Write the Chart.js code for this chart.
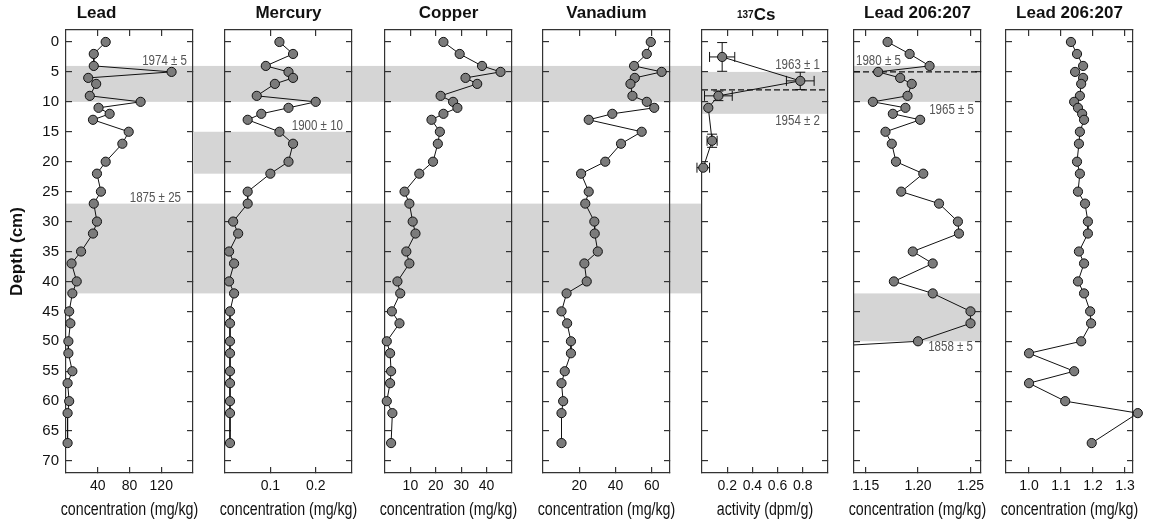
<!DOCTYPE html>
<html>
<head>
<meta charset="utf-8">
<script src="https://cdn.jsdelivr.net/npm/chart.js@4.4.0/dist/chart.umd.min.js"></script>
<style>
  body { margin: 0; background: #fff; }
  #wrap { position: relative; width: 1149px; height: 525px; overflow: hidden; }
  #wrap canvas { position: absolute; top: 0; }
</style>
</head>
<body>
<div id="wrap"></div>
<script>
// ---- data ----
const depthTicks = [0, 5, 10, 15, 20, 25, 30, 35, 40, 45, 50, 55, 60, 65, 70];
const depths = [0, 2, 4, 5, 6, 7, 9, 10, 11, 12, 13, 15, 17, 20, 22, 25, 27, 30, 32, 35, 37, 40, 42, 45, 47, 50, 52, 55, 57, 60, 62, 67];

const lead = [50, 35, 35, 133, 28, 38, 30, 94, 41, 55, 34, 79, 71, 50, 39, 44, 35, 39, 34, 19, 7, 13.5, 8, 4, 5.5, 3, 3, 8, 2, 4, 2, 2];
const mercury = [0.12, 0.15, 0.09, 0.14, 0.15, 0.11, 0.07, 0.2, 0.14, 0.08, 0.05, 0.12, 0.15, 0.14, 0.1, 0.05, 0.05, 0.018, 0.029, 0.009, 0.02, 0.009, 0.02, 0.011, 0.011, 0.011, 0.011, 0.011, 0.011, 0.011, 0.011, 0.011];
const copper = [23, 29.4, 38.2, 45.5, 31.7, 36.3, 21.9, 26.8, 28.5, 23, 18.3, 21.6, 20.8, 18.9, 13.5, 7.7, 9.6, 10.9, 12, 8.4, 9.6, 4.9, 6, 2.7, 5.7, 0.7, 2, 2.4, 2, 0.7, 2.9, 2.4];
const vanadium = [59.4, 57.2, 50.2, 65.4, 50.6, 48.2, 49.3, 57.2, 61.3, 38.2, 25.2, 54.4, 43, 34.3, 21, 25.2, 23.3, 28.3, 28.5, 30.2, 22.8, 24.1, 13, 10.2, 13.3, 15.4, 15.4, 12, 10.2, 11.1, 10.2, 10.2];

const csDepth = [2.5, 6.5, 9, 11, 16.5, 21];
const csActivity = [0.16, 0.78, 0.13, 0.05, 0.08, 0.01];
const csErrActivity = [0.1, 0.11, 0.11, 0, 0.04, 0.05];
const csErrDepth = [2.4, 1.45, 0.8, 0, 1.1, 0];

const ratioDepths = [0, 2, 4, 5, 6, 7, 9, 10, 11, 12, 13, 15, 17, 20, 22, 25, 27, 30, 32, 35, 37, 40, 42, 45, 47, 50, 52];
const ratioZoom = [1.171, 1.192, 1.211, 1.162, 1.183, 1.194, 1.19, 1.157, 1.188, 1.176, 1.202, 1.169, 1.175, 1.179, 1.205, 1.184, 1.22, 1.238, 1.239, 1.195, 1.214, 1.177, 1.214, 1.25, 1.25, 1.2, 1.0];
const ratioFull = [1.131, 1.15, 1.169, 1.144, 1.169, 1.163, 1.159, 1.141, 1.153, 1.166, 1.172, 1.159, 1.156, 1.15, 1.159, 1.153, 1.175, 1.184, 1.184, 1.156, 1.172, 1.153, 1.172, 1.191, 1.194, 1.163, 1.0, 1.141, 1.0, 1.113, 1.34, 1.196];

const leadTicks = [40, 80, 120];
const mercuryTicks = [0.1, 0.2];
const copperTicks = [10, 20, 30, 40];
const vanadiumTicks = [20, 40, 60];
const csTicks = [0.2, 0.4, 0.6, 0.8];
const ratioZoomTicks = [1.15, 1.20, 1.25];
const ratioFullTicks = [1.0, 1.1, 1.2, 1.3];

const datedBands = [[4, 10], [27, 42]];
const mercuryBand = [15, 22];
const csBand = [5, 12];
const ratioBands = [[4, 10], [42, 50]];
const csDash = 8;
const ratioDash = 5;

// ---- drawing ----
const sans = "'Liberation Sans', Arial, sans-serif";
Chart.defaults.font.family = sans;
Chart.defaults.color = '#111';

// squeeze text a little, the original uses a condensed face
function narrowText(ctx, text, x, y, squeeze) {
  const w = ctx.measureText(text).width;
  ctx.fillText(text, x, y, w * squeeze);
}

const decor = {
  id: 'decor',
  beforeDraw(chart, args, o) {
    const { ctx, chartArea: a, scales: { y } } = chart;
    ctx.save();
    ctx.fillStyle = '#d5d5d5';
    (o.bands || []).forEach(b => {
      const y1 = y.getPixelForValue(b.range[0]);
      const y2 = y.getPixelForValue(b.range[1]);
      const x1 = a.left - (b.left || 0);
      const x2 = a.right + (b.right || 0);
      ctx.fillRect(x1, y1, x2 - x1, y2 - y1);
    });
    ctx.restore();
  },
  beforeDatasetsDraw(chart, args, o) {
    const { ctx, chartArea: a, scales: { x, y } } = chart;
    ctx.save();
    if (o.dash != null) {
      const py = y.getPixelForValue(o.dash);
      ctx.strokeStyle = '#111';
      ctx.lineWidth = 1.2;
      ctx.setLineDash([6, 3]);
      ctx.beginPath();
      ctx.moveTo(a.left, py);
      ctx.lineTo(a.right, py);
      ctx.stroke();
      ctx.setLineDash([]);
    }
    if (o.errors) {
      const e = o.errors;
      const cap = 5;
      ctx.strokeStyle = '#111';
      ctx.lineWidth = 1;
      e.x.forEach((v, i) => {
        const py = y.getPixelForValue(e.y[i]);
        const px = x.getPixelForValue(v);
        const xa = x.getPixelForValue(v - e.ex[i]), xb = x.getPixelForValue(v + e.ex[i]);
        const ya = y.getPixelForValue(e.y[i] - e.ey[i]), yb = y.getPixelForValue(e.y[i] + e.ey[i]);
        ctx.beginPath();
        if (xb - xa > 4) {
          ctx.moveTo(xa, py); ctx.lineTo(xb, py);
          ctx.moveTo(xa, py - cap); ctx.lineTo(xa, py + cap);
          ctx.moveTo(xb, py - cap); ctx.lineTo(xb, py + cap);
        }
        if (yb - ya > 4) {
          ctx.moveTo(px, ya); ctx.lineTo(px, yb);
          ctx.moveTo(px - cap, ya); ctx.lineTo(px + cap, ya);
          ctx.moveTo(px - cap, yb); ctx.lineTo(px + cap, yb);
        }
        ctx.stroke();
      });
    }
    ctx.restore();
  },
  afterDraw(chart, args, o) {
    const { ctx, chartArea: a, scales: { y } } = chart;
    ctx.save();
    ctx.fillStyle = '#555';
    ctx.font = '15px ' + sans;
    ctx.textBaseline = 'middle';
    (o.notes || []).forEach(n => {
      ctx.textAlign = n.align;
      const px = n.align === 'right' ? a.right - n.inset : a.left + n.inset;
      narrowText(ctx, n.text, px, y.getPixelForValue(n.depth), 0.77);
    });
    ctx.fillStyle = '#111';
    ctx.textAlign = 'center';
    ctx.font = '18px ' + sans;
    narrowText(ctx, o.xTitle, (a.left + a.right) / 2, 510, 0.79);
    if (o.isotope) {
      ctx.textAlign = 'left';
      ctx.textBaseline = 'alphabetic';
      ctx.font = 'bold 10px ' + sans;
      ctx.fillText('137', a.left + 35, 18);
      const w = ctx.measureText('137').width;
      ctx.font = 'bold 17px ' + sans;
      ctx.fillText('Cs', a.left + 35 + w, 20);
    }
    ctx.restore();
  }
};

const panels = [
  { title: 'Lead', left: 66, right: 193, min: 0, max: 160, ticks: leadTicks, dec: 0,
    xs: lead, ys: depths, xTitle: 'concentration (mg/kg)', depthLabels: true,
    bands: datedBands.map(r => ({ range: r, right: 32 })),
    notes: [{ text: '1974 \u00b1 5', depth: 3.1, align: 'right', inset: 6 },
            { text: '1875 \u00b1 25', depth: 26, align: 'right', inset: 12 }] },
  { title: 'Mercury', left: 225, right: 352, min: 0, max: 0.28, ticks: mercuryTicks, dec: 1,
    xs: mercury, ys: depths, xTitle: 'concentration (mg/kg)',
    bands: datedBands.map(r => ({ range: r, right: 33 })).concat([{ range: mercuryBand, left: 32 }]),
    notes: [{ text: '1900 \u00b1 10', depth: 14, align: 'right', inset: 9 }] },
  { title: 'Copper', left: 385, right: 512, min: 0, max: 50, ticks: copperTicks, dec: 0,
    xs: copper, ys: depths, xTitle: 'concentration (mg/kg)',
    bands: datedBands.map(r => ({ range: r, right: 31 })) },
  { title: 'Vanadium', left: 543, right: 670, min: 0, max: 70, ticks: vanadiumTicks, dec: 0,
    xs: vanadium, ys: depths, xTitle: 'concentration (mg/kg)',
    bands: datedBands.map(r => ({ range: r, right: 32 })) },
  { title: null, isotope: true, left: 702, right: 828, min: 0, max: 1.0, ticks: csTicks, dec: 1,
    xs: csActivity, ys: csDepth, xTitle: 'activity (dpm/g)',
    bands: [{ range: csBand }], dash: csDash,
    errors: { x: csActivity, y: csDepth, ex: csErrActivity, ey: csErrDepth },
    notes: [{ text: '1963 \u00b1 1', depth: 3.85, align: 'right', inset: 8 },
            { text: '1954 \u00b1 2', depth: 13.1, align: 'right', inset: 8 }] },
  { title: 'Lead 206:207', left: 854, right: 981, min: 1.139, max: 1.26, ticks: ratioZoomTicks, dec: 2,
    xs: ratioZoom, ys: ratioDepths, xTitle: 'concentration (mg/kg)', clipLeft: true,
    bands: ratioBands.map(r => ({ range: r })), dash: ratioDash,
    notes: [{ text: '1980 \u00b1 5', depth: 3.1, align: 'left', inset: 2 },
            { text: '1965 \u00b1 5', depth: 11.35, align: 'right', inset: 7 },
            { text: '1858 \u00b1 5', depth: 50.9, align: 'right', inset: 8 }] },
  { title: 'Lead 206:207', left: 1006, right: 1133, min: 0.928, max: 1.325, ticks: ratioFullTicks, dec: 1,
    xs: ratioFull, ys: depths, xTitle: 'concentration (mg/kg)' }
];

const wrap = document.getElementById('wrap');

panels.forEach(p => {
  const axisW = p.depthLabels ? 66 : 0;
  const padL = p.depthLabels ? 0 : 40;
  const plotW = p.right - p.left;
  const canvasLeft = p.left - axisW - padL;
  const width = Math.min(1149 - canvasLeft, padL + axisW + plotW + 40);
  const padR = width - padL - axisW - plotW;
  const cv = document.createElement('canvas');
  cv.width = width;
  cv.height = 525;
  cv.style.left = canvasLeft + 'px';
  cv.style.width = width + 'px';
  cv.style.height = '525px';
  wrap.appendChild(cv);

  const edge = { color: '#333', width: 1.2 };
  const marks = { drawOnChartArea: false, drawTicks: true, tickLength: -6, color: '#333', lineWidth: 1.2 };
  const xTicks = s => { s.ticks = p.ticks.map(v => ({ value: v })); };
  const yTicks = s => { s.ticks = depthTicks.map(v => ({ value: v })); };

  new Chart(cv, {
    type: 'line',
    data: {
      datasets: [{
        data: p.xs.map((v, i) => ({ x: v, y: p.ys[i] })),
        borderColor: '#111',
        borderWidth: 1,
        pointRadius: 4.6,
        pointBackgroundColor: '#7b7b7b',
        pointBorderColor: '#111',
        pointBorderWidth: 1,
        tension: 0,
        clip: p.clipLeft ? { left: 0, right: false, top: false, bottom: false } : false
      }]
    },
    options: {
      responsive: false,
      animation: false,
      events: [],
      layout: { padding: { left: padL, right: padR, top: p.title ? 0 : 30, bottom: 0 } },
      plugins: {
        legend: { display: false },
        tooltip: { enabled: false },
        title: {
          display: !!p.title,
          text: p.title || '',
          color: '#111',
          font: { size: 17, weight: 'bold', lineHeight: 1.2 },
          padding: { top: 3, bottom: 6.6 }
        },
        decor: {
          bands: p.bands || [], notes: p.notes || [], dash: p.dash, errors: p.errors,
          xTitle: p.xTitle, isotope: p.isotope
        }
      },
      scales: {
        x: {
          type: 'linear', position: 'bottom', min: p.min, max: p.max,
          afterBuildTicks: xTicks,
          afterFit: s => { s.height = 52; },
          grid: marks, border: edge,
          ticks: { font: { size: 14 }, color: '#111', padding: 11, callback: v => v.toFixed(p.dec) }
        },
        x2: {
          type: 'linear', position: 'top', min: p.min, max: p.max,
          afterBuildTicks: xTicks,
          afterFit: s => { s.height = 0; },
          grid: marks, border: edge,
          ticks: { display: false }
        },
        y: {
          type: 'linear', position: 'left', min: -2, max: 72, reverse: true,
          afterBuildTicks: yTicks,
          afterFit: s => { s.width = axisW; },
          grid: marks, border: edge,
          ticks: { display: !!p.depthLabels, font: { size: 15 }, color: '#111', padding: 13 },
          title: {
            display: !!p.depthLabels, text: 'Depth (cm)', color: '#111',
            font: { size: 17, weight: 'bold', lineHeight: 1.2 },
            padding: { top: 7, bottom: 0 }
          }
        },
        y2: {
          type: 'linear', position: 'right', min: -2, max: 72, reverse: true,
          afterBuildTicks: yTicks,
          afterFit: s => { s.width = 0; },
          grid: marks, border: edge,
          ticks: { display: false }
        }
      }
    },
    plugins: [decor]
  });
});
</script>
</body>
</html>
